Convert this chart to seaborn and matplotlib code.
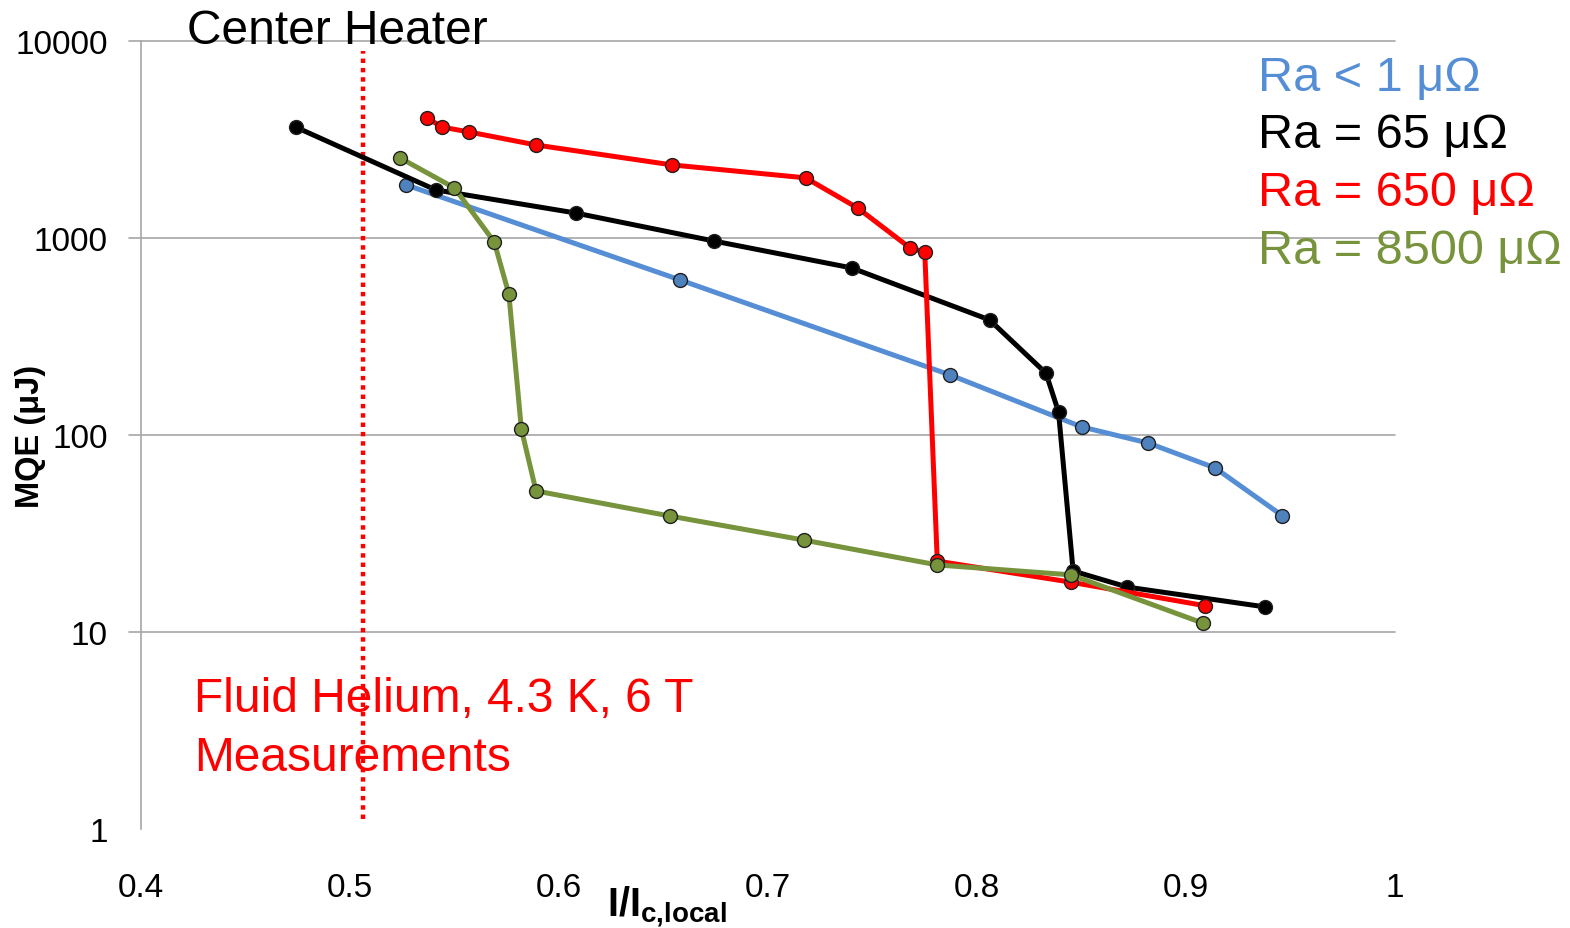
import numpy as np
import pandas as pd
import matplotlib
matplotlib.use("Agg")
import matplotlib.pyplot as plt
import seaborn as sns

# ---------------- data ----------------
blue_x = [0.527, 0.658, 0.787, 0.850, 0.882, 0.914, 0.946]
blue_y = [1858, 612, 202, 110, 91, 68, 39]

black_x = [0.474, 0.541, 0.608, 0.674, 0.740, 0.806, 0.833, 0.839, 0.846, 0.872, 0.938]
black_y = [3656, 1754, 1339, 966, 705, 384, 206, 131, 20.4, 16.9, 13.4]

red_x = [0.537, 0.544, 0.557, 0.589, 0.654, 0.718, 0.743, 0.768, 0.775, 0.781, 0.845, 0.909]
red_y = [4064, 3656, 3453, 2966, 2350, 2020, 1418, 890, 848, 22.9, 17.9, 13.6]

green_x = [0.524, 0.550, 0.569, 0.576, 0.582, 0.589, 0.653, 0.717, 0.781, 0.845, 0.908]
green_y = [2547, 1795, 955, 520, 107, 52, 38.8, 29.3, 21.9, 19.5, 11.1]

series_names = ["Ra < 1 μΩ", "Ra = 65 μΩ", "Ra = 650 μΩ", "Ra = 8500 μΩ"]
line_colors = ["#558ED5", "#000000", "#FF0000", "#77933C"]
marker_colors = ["#4F81BD", "#000000", "#FF0000", "#77933C"]

x_ticks = [0.4, 0.5, 0.6, 0.7, 0.8, 0.9, 1.0]
x_tick_labels = ["0.4", "0.5", "0.6", "0.7", "0.8", "0.9", "1"]
y_ticks = [1, 10, 100, 1000, 10000]
y_tick_labels = ["1", "10", "100", "1000", "10000"]
heater_x = 0.506

# ---------------- style ----------------
sns.set_style("white")
plt.rcParams['font.family'] = ['Liberation Sans', 'DejaVu Sans']
plt.rcParams['text.color'] = 'black'
plt.rcParams['axes.labelcolor'] = 'black'
plt.rcParams['mathtext.fontset'] = 'custom'
plt.rcParams['mathtext.bf'] = 'Liberation Sans:bold'
plt.rcParams['mathtext.rm'] = 'Liberation Sans'

W, H = 1570, 929
fig = plt.figure(figsize=(W / 100, H / 100), dpi=100)
ax = fig.add_axes([141 / W, 1 - 830 / H, (1395 - 141) / W, (830 - 42) / H])

frames = []
for name, xs, ys in zip(series_names,
                        [blue_x, black_x, red_x, green_x],
                        [blue_y, black_y, red_y, green_y]):
    frames.append(pd.DataFrame({"x": xs, "y": ys, "series": name}))
df = pd.concat(frames, ignore_index=True)

for name, lc, mc in zip(series_names, line_colors, marker_colors):
    sub = df[df.series == name]
    sns.lineplot(data=sub, x="x", y="y", ax=ax, sort=False, color=lc,
                 linewidth=3.6, marker="o", markersize=10,
                 markerfacecolor=mc, markeredgecolor="#202020",
                 markeredgewidth=1.0, zorder=3, legend=False)

ax.set_yscale("log")
ax.set_xlim(0.4, 1.0)
ax.set_ylim(1, 10000)

# gridlines (no line at y=1)
for yv in y_ticks[1:]:
    ax.axhline(yv, xmin=-0.0096, xmax=1, color="#A6A6A6", linewidth=1.2,
               clip_on=False, zorder=1)

ax.axvline(heater_x, ymin=0.013, ymax=0.987, color="#FF0000", linewidth=3.2,
           linestyle=(0, (1, 1.1)), zorder=2)

for s in ["top", "right", "bottom"]:
    ax.spines[s].set_visible(False)
ax.spines["left"].set_color("#A6A6A6")
ax.spines["left"].set_linewidth(1.2)
ax.spines["left"].set_bounds(1, 10000)

ax.set_xticks(x_ticks)
ax.set_xticklabels(x_tick_labels)
ax.set_yticks(y_ticks)
ax.set_yticklabels(y_tick_labels)
ax.yaxis.set_minor_locator(matplotlib.ticker.NullLocator())
ax.tick_params(axis="x", direction="out", length=9, width=1.2, color="#A6A6A6",
               pad=22, labelsize=24, labelcolor="#000000")
ax.tick_params(axis="y", length=0, pad=24, labelsize=24, labelcolor="#000000")
ax.set_xlabel("")
ax.set_ylabel("MQE (μJ)", fontsize=23.5, fontweight="bold", color="black")
ax.yaxis.set_label_coords(-(141 - 46) / 1254, 0.5)

fig.text(667 / W, 1 - 907 / H, r"$\mathbf{I/I}_{\mathbf{c{,}local}}$", fontsize=28.5,
         ha="center", va="center", color="black")

fig.text(187 / W, 1 - 32 / H, "Center Heater", fontsize=34.5, ha="left", va="center",
         color="black")

for i, (name, c) in enumerate(zip(series_names, line_colors)):
    fig.text(1258 / W, 1 - (78 + 57.7 * i) / H, name, fontsize=35, color=c,
             ha="left", va="center")

fig.text(194 / W, 1 - 700 / H, "Fluid Helium, 4.3 K, 6 T", fontsize=34.5,
         color="#FF0000", ha="left", va="center")
fig.text(194 / W, 1 - 759 / H, "Measurements", fontsize=34.5,
         color="#FF0000", ha="left", va="center")

fig.savefig("out.png", dpi=100)
